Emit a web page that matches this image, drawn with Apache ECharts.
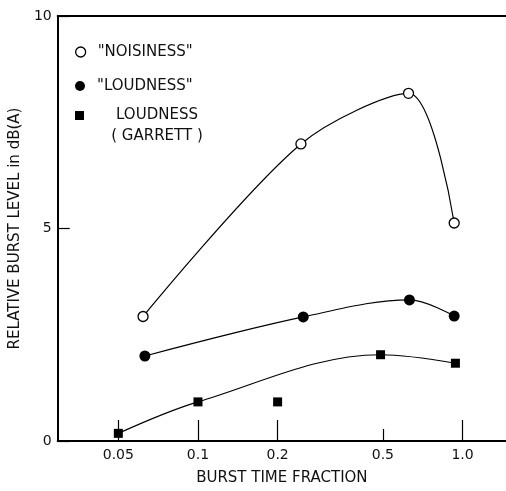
<!DOCTYPE html>
<html>
<head>
<meta charset="utf-8">
<script src="https://cdn.jsdelivr.net/npm/echarts@6/dist/echarts.min.js"></script>
<style>
html,body{margin:0;padding:0;background:#fff;}
#c{width:506px;height:491px;}
</style>
</head>
<body>
<div id="c"></div>
<script>
// ---- data ----
const seriesNames = ['"NOISINESS"', '"LOUDNESS"', 'LOUDNESS (GARRETT)'];
const noisiness = [[0.062, 2.93], [0.245, 6.99], [0.625, 8.18], [0.93, 5.13]];
const loudness = [[0.063, 2.0], [0.25, 2.92], [0.63, 3.32], [0.93, 2.94]];
const garrettCurve = [[0.05, 0.18], [0.1, 0.92], [0.49, 2.03], [0.94, 1.83]];
const garrettOutlier = [[0.2, 0.92]];
const xTickValues = [0.05, 0.1, 0.2, 0.5, 1.0];
const xTickLabels = ['0.05', '0.1', '0.2', '0.5', '1.0'];
const xShortTicks = [0.5];
const yTickLabels = ['0', '5', '10'];
const xName = 'BURST TIME FRACTION';
const yName = 'RELATIVE BURST LEVEL in dB(A)';

const FONT = 'DejaVu Sans';
const xMin = 0.0295, xMax = 1.46;
const longTicks = xTickValues.filter(v => xShortTicks.indexOf(v) < 0);

const chart = echarts.init(document.getElementById('c'), null, {renderer: 'canvas'});

const lineStyle = {color: '#000', width: 1.2};
const legendText = {fontFamily: FONT, fontSize: 15, color: '#111', lineHeight: 18, padding: [0, 0, 0, 7]};

const option = {
  animation: false,
  backgroundColor: '#fff',
  grid: {left: 55, right: 0, top: 16, bottom: 47, containLabel: false},
  legend: [
    {
      data: [{name: seriesNames[0], icon: 'circle'}],
      left: 75, top: 43, padding: 0, itemWidth: 10, itemHeight: 10,
      itemStyle: {color: '#fff', borderColor: '#000', borderWidth: 1.3},
      textStyle: legendText, selectedMode: false
    },
    {
      data: [{name: seriesNames[1], icon: 'circle'}],
      left: 75, top: 77, padding: 0, itemWidth: 10, itemHeight: 10,
      itemStyle: {color: '#000', borderWidth: 0},
      textStyle: legendText, selectedMode: false
    },
    {
      data: [{name: seriesNames[2], icon: 'rect'}],
      left: 75, top: 87, padding: 0, itemWidth: 9, itemHeight: 9,
      itemStyle: {color: '#000', borderWidth: 0, opacity: 1},
      selectedMode: false,
      formatter: function (name) {
        const i = name.indexOf(' (');
        return '{e| }\n{a|' + name.slice(0, i) + '}\n{a|' + name.slice(i + 1).replace('(', '( ').replace(')', ' )') + '}';
      },
      textStyle: {
        fontFamily: FONT, fontSize: 15, color: '#111', padding: [0, 0, 0, 7],
        rich: {
          e: {fontFamily: FONT, fontSize: 15, lineHeight: 21, width: 122},
          a: {fontFamily: FONT, fontSize: 15, lineHeight: 21, width: 122, align: 'center', color: '#111'}
        }
      }
    }
  ],
  xAxis: [
    {
      type: 'log', min: xMin, max: xMax, position: 'bottom',
      name: xName, nameLocation: 'middle', nameGap: 30,
      nameTextStyle: {fontFamily: FONT, fontSize: 15, color: '#111'},
      axisLine: {show: true, lineStyle: {color: '#000', width: 2}},
      axisTick: {show: true, inside: true, length: 21, customValues: longTicks, lineStyle: {color: '#000', width: 1.2}},
      axisLabel: {
        show: true, margin: 7, customValues: xTickValues,
        fontFamily: FONT, fontSize: 14, color: '#111',
        formatter: function (v) {
          let best = 0;
          for (let i = 0; i < xTickValues.length; i++) {
            if (Math.abs(Math.log(xTickValues[i]) - Math.log(v)) < Math.abs(Math.log(xTickValues[best]) - Math.log(v))) best = i;
          }
          return xTickLabels[best];
        }
      },
      minorTick: {show: false}, splitLine: {show: false}
    },
    {
      type: 'value', min: 0, max: 1, position: 'top',
      axisLine: {show: true, lineStyle: {color: '#000', width: 2}},
      axisTick: {show: false}, axisLabel: {show: false}, splitLine: {show: false}
    },
    {
      type: 'log', min: xMin, max: xMax, position: 'bottom',
      axisLine: {show: false},
      axisTick: {show: true, inside: true, length: 12, customValues: xShortTicks, lineStyle: {color: '#000', width: 1.2}},
      axisLabel: {show: false}, splitLine: {show: false}
    }
  ],
  yAxis: {
    type: 'value', min: 0, max: 10, interval: 5,
    name: yName, nameLocation: 'middle', nameGap: 30, nameRotate: 90,
    nameTextStyle: {fontFamily: FONT, fontSize: 15, color: '#111'},
    axisLine: {show: true, lineStyle: {color: '#000', width: 2}},
    axisTick: {show: true, inside: true, length: 12, lineStyle: {color: '#000', width: 1.2}},
    axisLabel: {
      margin: 6, fontFamily: FONT, fontSize: 14, color: '#111',
      formatter: function (v) { return yTickLabels[Math.round(v / 5)]; }
    },
    splitLine: {show: false}
  },
  series: [
    {
      name: seriesNames[0], type: 'line', data: noisiness, smooth: 0.3,
      symbol: 'circle', symbolSize: 10, lineStyle: lineStyle,
      itemStyle: {color: '#fff', borderColor: '#000', borderWidth: 1.3}, z: 3
    },
    {
      name: seriesNames[1], type: 'line', data: loudness, smooth: 0.35,
      symbol: 'circle', symbolSize: 11, lineStyle: lineStyle,
      itemStyle: {color: '#000'}, z: 3
    },
    {
      name: seriesNames[2], type: 'line', data: garrettCurve, smooth: 0.35,
      symbol: 'rect', symbolSize: 9, lineStyle: lineStyle,
      itemStyle: {color: '#000'}, z: 3
    },
    {
      name: seriesNames[2], type: 'scatter', data: garrettOutlier,
      symbol: 'rect', symbolSize: 9, itemStyle: {color: '#000', opacity: 1}, z: 3
    }
  ]
};
chart.setOption(option);
</script>
</body>
</html>
